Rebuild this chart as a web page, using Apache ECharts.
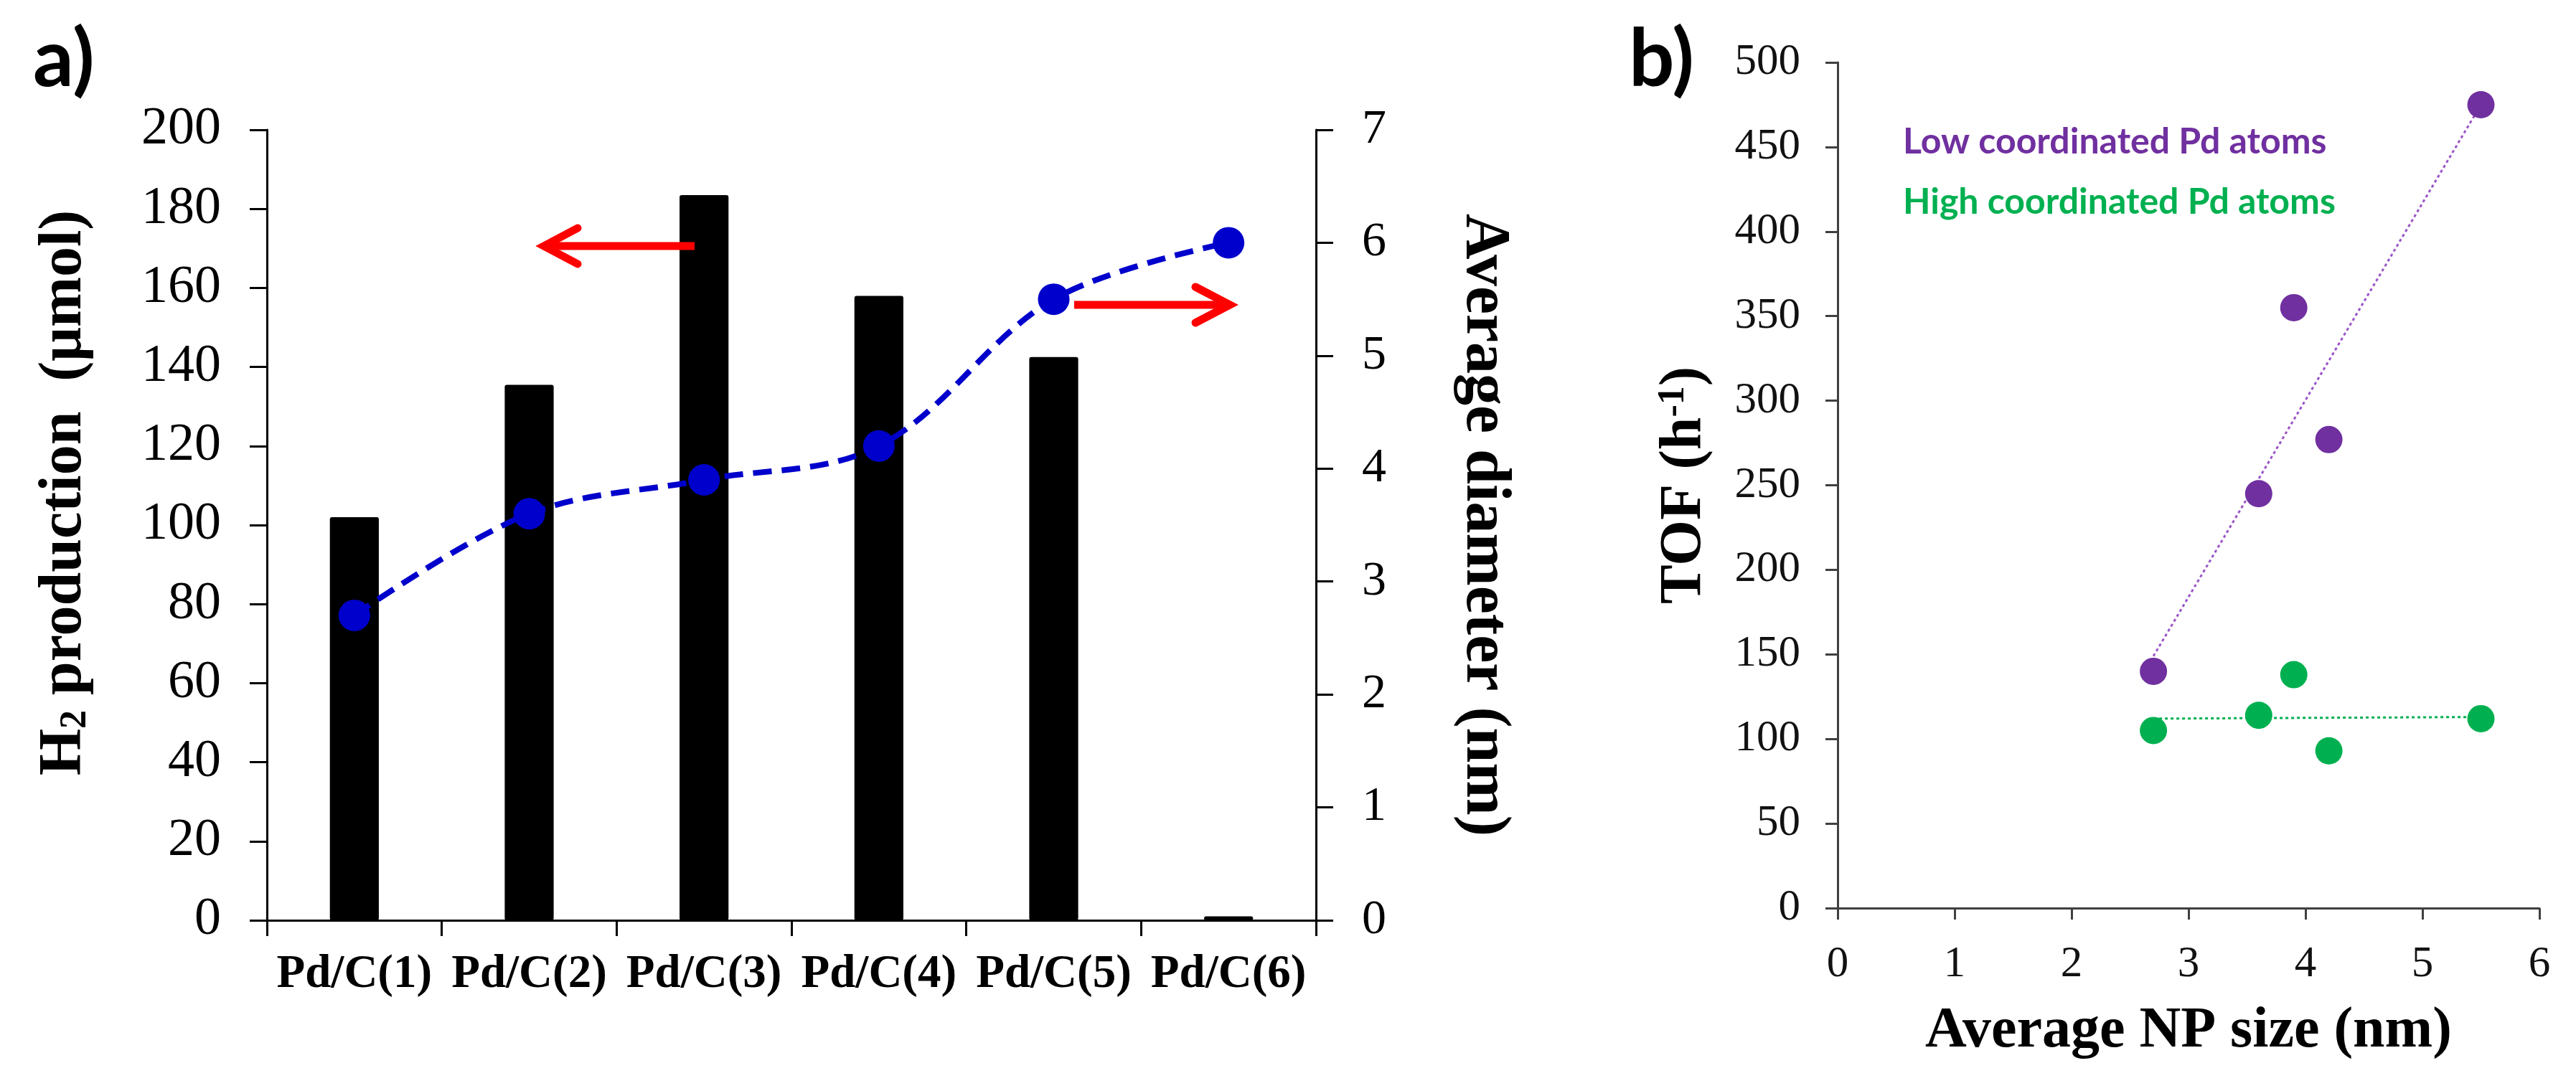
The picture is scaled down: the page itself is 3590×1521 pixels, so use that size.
<!DOCTYPE html>
<html>
<head>
<meta charset="utf-8">
<script src="https://cdn.jsdelivr.net/npm/echarts@6/dist/echarts.min.js"></script>
<style>html,body{margin:0;padding:0;background:#fff}#c{width:3590px;height:1521px}</style>
</head>
<body>
<div id="c"></div>
<script>
// ---- Panel a data ----
const categories = ['Pd/C(1)', 'Pd/C(2)', 'Pd/C(3)', 'Pd/C(4)', 'Pd/C(5)', 'Pd/C(6)'];
const h2Production = [102, 135.5, 183.5, 158, 142.5, 1];      // µmol (left axis)
const avgDiameter = [2.7, 3.6, 3.9, 4.2, 5.5, 6.0];            // nm (right axis)

// ---- Panel b data ----
const npSize = [2.7, 3.6, 3.9, 4.2, 5.5];
const tofLow = [140, 245, 355, 277, 475];
const tofHigh = [105, 114, 138, 93, 112];
const trendLow = [[2.7, 149], [5.5, 475]];
const trendHigh = [[2.7, 112], [5.5, 113]];

const legendLow = 'Low coordinated Pd atoms';
const legendHigh = 'High coordinated Pd atoms';

const SERIF = '"Liberation Serif", "Times New Roman", serif';
const SANS = 'Lato, "Open Sans", sans-serif';

const chart = echarts.init(document.getElementById('c'));

const serifBold = (size) => ({fontFamily: SERIF, fontWeight: 'bold', fontSize: size, color: '#000'});

const option = {
  animation: false,
  backgroundColor: '#fff',
  grid: [
    {left: 372, top: 181, width: 1462, height: 1102},
    {left: 2561, top: 87, width: 978, height: 1179}
  ],
  xAxis: [
    {
      type: 'category', gridIndex: 0, data: categories, boundaryGap: true,
      axisLine: {lineStyle: {color: '#000', width: 3}},
      axisTick: {show: true, length: 22, interval: 0, lineStyle: {color: '#000', width: 3}},
      axisLabel: Object.assign({margin: 44, interval: 0}, serifBold(65)),
      splitLine: {show: false}
    },
    {
      type: 'value', gridIndex: 1, min: 0, max: 6, interval: 1,
      axisLine: {onZero: false, lineStyle: {color: '#404040', width: 3}},
      axisTick: {length: 16, lineStyle: {color: '#404040', width: 3}},
      axisLabel: {margin: 48, fontFamily: SERIF, fontSize: 61, color: '#111'},
      splitLine: {show: false},
      name: 'Average NP size (nm)', nameLocation: 'middle', nameGap: 132,
      nameTextStyle: serifBold(80)
    }
  ],
  yAxis: [
    {
      type: 'value', gridIndex: 0, min: 0, max: 200, interval: 20, position: 'left',
      axisLine: {show: true, lineStyle: {color: '#000', width: 3}},
      axisTick: {show: true, length: 24, lineStyle: {color: '#000', width: 3}},
      axisLabel: {margin: 64, fontFamily: SERIF, fontSize: 74, color: '#000'},
      splitLine: {show: false},
      name: 'H{sub|2} production  (μmol)', nameLocation: 'middle', nameRotate: 90, nameGap: 240,
      nameTextStyle: Object.assign(serifBold(84), {
        padding: [0, 0, 0, 90],
        rich: {sub: {fontFamily: SERIF, fontWeight: 'bold', fontSize: 52, color: '#000', verticalAlign: 'bottom', lineHeight: 40}}
      })
    },
    {
      type: 'value', gridIndex: 0, min: 0, max: 7, interval: 1, position: 'right',
      axisLine: {show: true, lineStyle: {color: '#000', width: 3}},
      axisTick: {show: true, length: 24, lineStyle: {color: '#000', width: 3}},
      axisLabel: {margin: 64, fontFamily: SERIF, fontSize: 68, color: '#000'},
      splitLine: {show: false},
      name: 'Average diameter (nm)', nameLocation: 'middle', nameRotate: -90, nameGap: 190,
      nameTextStyle: serifBold(88)
    },
    {
      type: 'value', gridIndex: 1, min: 0, max: 500, interval: 50,
      axisLine: {show: true, onZero: false, lineStyle: {color: '#404040', width: 3}},
      axisTick: {show: true, length: 17, lineStyle: {color: '#404040', width: 3}},
      axisLabel: {margin: 52, fontFamily: SERIF, fontSize: 61, color: '#111'},
      splitLine: {show: false},
      name: 'TOF (h{sup|-1})', nameLocation: 'middle', nameRotate: 90, nameGap: 172,
      nameTextStyle: Object.assign(serifBold(82), {
        rich: {sup: {fontFamily: SERIF, fontWeight: 'bold', fontSize: 52, color: '#000', verticalAlign: 'top', lineHeight: 40}}
      })
    }
  ],
  series: [
    {
      type: 'bar', xAxisIndex: 0, yAxisIndex: 0, data: h2Production,
      barWidth: '28%', itemStyle: {color: '#000', borderRadius: 3}
    },
    {
      type: 'line', xAxisIndex: 0, yAxisIndex: 1, data: avgDiameter,
      smooth: 0.35, symbol: 'circle', symbolSize: 44,
      itemStyle: {color: '#0000CC'},
      lineStyle: {color: '#0000CC', width: 8, type: [26, 14]},
      z: 5
    },
    {
      type: 'line', xAxisIndex: 1, yAxisIndex: 2, data: trendLow,
      symbol: 'none', lineStyle: {color: '#9A55C8', width: 3, type: [4, 4]}, z: 2
    },
    {
      type: 'line', xAxisIndex: 1, yAxisIndex: 2, data: trendHigh,
      symbol: 'none', lineStyle: {color: '#00B050', width: 3, type: [4, 4]}, z: 2
    },
    {
      type: 'scatter', xAxisIndex: 1, yAxisIndex: 2,
      data: npSize.map((x, i) => [x, tofLow[i]]),
      symbolSize: 38, itemStyle: {color: '#7030A0', opacity: 1}, z: 4
    },
    {
      type: 'scatter', xAxisIndex: 1, yAxisIndex: 2,
      data: npSize.map((x, i) => [x, tofHigh[i]]),
      symbolSize: 38, itemStyle: {color: '#00B050', opacity: 1}, z: 4
    }
  ],
  graphic: [
    {type: 'text', left: 46, top: 28, style: {text: 'a)', font: 'bold 112px ' + SANS, fill: '#000'}},
    {type: 'text', left: 2270, top: 28, style: {text: 'b)', font: 'bold 112px ' + SANS, fill: '#000'}},
    {type: 'text', x: 2652, y: 198, style: {text: legendLow, font: 'bold 50px ' + SANS, fill: '#7030A0', verticalAlign: 'middle'}},
    {type: 'text', x: 2652, y: 282, style: {text: legendHigh, font: 'bold 50px ' + SANS, fill: '#00B050', verticalAlign: 'middle'}},
    // arrow pointing to left axis
    {type: 'polyline', shape: {points: [[968, 343], [762, 343]]}, style: {stroke: '#FF0000', lineWidth: 11, lineCap: 'butt', fill: null}, z: 10},
    {type: 'polyline', shape: {points: [[805, 318], [758, 343], [805, 368]]}, style: {stroke: '#FF0000', lineWidth: 11, lineCap: 'round', lineJoin: 'miter', fill: null}, z: 10},
    // arrow pointing to right axis
    {type: 'polyline', shape: {points: [[1497, 425], [1710, 425]]}, style: {stroke: '#FF0000', lineWidth: 11, lineCap: 'butt', fill: null}, z: 10},
    {type: 'polyline', shape: {points: [[1666, 400], [1714, 425], [1666, 450]]}, style: {stroke: '#FF0000', lineWidth: 11, lineCap: 'round', lineJoin: 'miter', fill: null}, z: 10}
  ]
};

chart.setOption(option);
</script>
</body>
</html>
